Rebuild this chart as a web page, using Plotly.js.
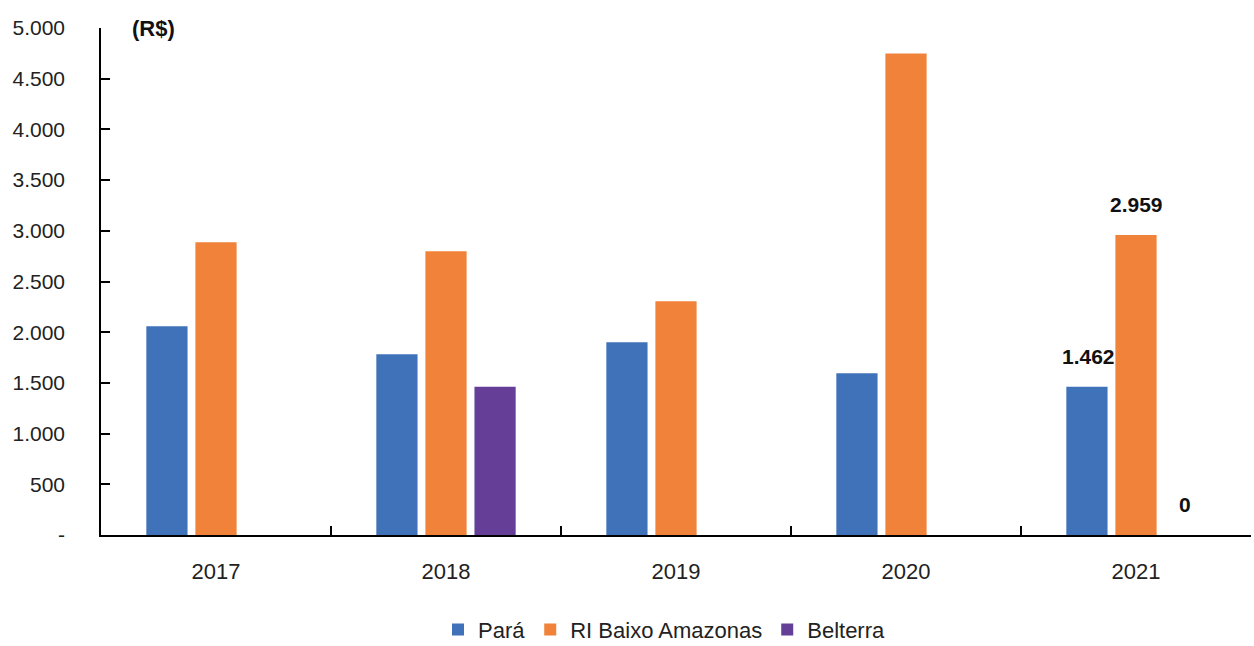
<!DOCTYPE html>
<html>
<head>
<meta charset="utf-8">
<script src="https://cdn.plot.ly/plotly-3.0.1.min.js"></script>
<style>
  html, body { margin: 0; padding: 0; background: #ffffff; }
  #chart { width: 1254px; height: 646px; }
</style>
</head>
<body>
<div id="chart"></div>
<script>
const years = ['2017', '2018', '2019', '2020', '2021'];
const para = [2059, 1783, 1901, 1596, 1462];
const riBaixoAmazonas = [2887, 2798, 2305, 4749, 2959];
const belterra = [0, 1461, 0, 0, 0];

const yTickVals = [0, 500, 1000, 1500, 2000, 2500, 3000, 3500, 4000, 4500, 5000];
const yTickText = ['-', '500', '1.000', '1.500', '2.000', '2.500', '3.000', '3.500', '4.000', '4.500', '5.000'];

const series = [
  { name: 'Pará', y: para, color: '#3F72B9' },
  { name: 'RI Baixo Amazonas', y: riBaixoAmazonas, color: '#F0823A' },
  { name: 'Belterra', y: belterra, color: '#653F97' }
];

const W = 1254, H = 646;
const margin = { l: 101, r: 3, t: 28, b: 111, autoexpand: false };
const bargap = 0.36;

const traces = series.map(s => ({
  type: 'bar',
  x: years,
  y: s.y,
  name: s.name,
  marker: { color: s.color },
  hoverinfo: 'x+y+name'
}));

// value labels for the last year only, shifted onto each bar of the group
const catWidth = (W - margin.l - margin.r) / years.length;
const slot = catWidth * (1 - bargap) / series.length;
const fmt = v => v.toLocaleString('de-DE');
const last = years.length - 1;
const valueLabels = series.map((s, j) => ({
  x: last,               // category index on the x axis
  y: s.y[last],
  xref: 'x', yref: 'y',
  text: '<b>' + fmt(s.y[last]) + '</b>',
  xanchor: 'center', yanchor: 'bottom',
  xshift: (j - (series.length - 1) / 2) * slot + (j === 0 ? 2 : 0),
  yshift: 17,
  showarrow: false,
  font: { size: 21, color: '#111111' }
}));

const layout = {
  width: W,
  height: H,
  margin: margin,
  paper_bgcolor: '#ffffff',
  plot_bgcolor: '#ffffff',
  font: { family: 'Liberation Sans, Arial, sans-serif', size: 21, color: '#222222' },
  barmode: 'group',
  bargap: bargap,
  bargroupgap: 0.16,
  showlegend: true,
  legend: {
    orientation: 'h',
    x: 0.49, xanchor: 'center',
    y: -0.228, yanchor: 'bottom',
    font: { size: 22, color: '#222222' },
    itemwidth: 30,
    tracegroupgap: 0
  },
  xaxis: {
    type: 'category',
    categoryarray: years,
    range: [-0.5, years.length - 0.5],
    showline: true, linecolor: '#000000', linewidth: 2,
    ticks: 'inside', tickson: 'boundaries', ticklen: 9, tickwidth: 2, tickcolor: '#000000',
    showgrid: false, zeroline: false,
    ticklabelstandoff: 16,
    tickfont: { size: 22, color: '#222222' }
  },
  yaxis: {
    range: [0, 5000],
    tickvals: yTickVals,
    ticktext: yTickText,
    showline: true, linecolor: '#000000', linewidth: 1.5,
    ticks: 'inside', ticklen: 9, tickwidth: 1.5, tickcolor: '#000000',
    showgrid: false, zeroline: false,
    ticklabelstandoff: 30,
    tickfont: { size: 21, color: '#222222' }
  },
  annotations: [{
    text: '<b>(R$)</b>',
    xref: 'paper', yref: 'paper',
    x: 0.025, y: 1.0,
    xanchor: 'left', yanchor: 'middle',
    showarrow: false,
    font: { size: 22, color: '#111111' }
  }].concat(valueLabels)
};

Plotly.newPlot('chart', traces, layout, { displayModeBar: false });
</script>
</body>
</html>
